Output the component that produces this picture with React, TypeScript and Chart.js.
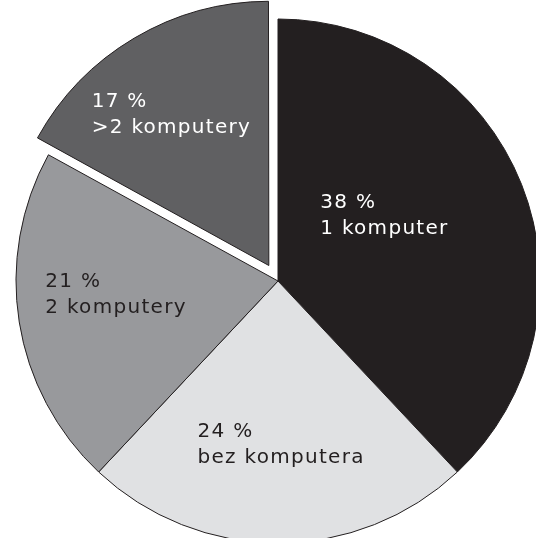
import { useEffect, useRef } from "react";
import { Chart, registerables } from "chart.js";

Chart.register(...registerables);

const categories = ["1 komputer", "bez komputera", "2 komputery", ">2 komputery"];
const shares = [38, 24, 21, 17];
const sliceColors = ["#231f20", "#e0e1e3", "#98999c", "#606062"];
const labelColors = ["#ffffff", "#231f20", "#231f20", "#ffffff"];
const explodePx = [0, 0, 0, 18];
const labelRadius = [0.48, 0.62, 0.62, 0.69];
const labelAngleShift = [-10.6, -1.1, 4.6, -2];

const labelPlugin = {
  id: "sliceLabels",
  afterDatasetsDraw(chart: any) {
    const ctx = chart.ctx as CanvasRenderingContext2D;
    const meta = chart.getDatasetMeta(0);
    ctx.save();
    ctx.font = "20px 'DejaVu Sans'";
    (ctx as any).letterSpacing = "1.3px";
    ctx.textBaseline = "alphabetic";
    ctx.textAlign = "left";
    meta.data.forEach((el: any, i: number) => {
      const { x, y, startAngle, endAngle, outerRadius } = el.getProps(
        ["x", "y", "startAngle", "endAngle", "outerRadius"],
        true
      );
      const mid = (startAngle + endAngle) / 2;
      const cx = x + Math.cos(mid) * explodePx[i];
      const cy = y + Math.sin(mid) * explodePx[i];
      const a = mid + (labelAngleShift[i] * Math.PI) / 180;
      const r = outerRadius * labelRadius[i];
      const bx = cx + Math.cos(a) * r;
      const by = cy + Math.sin(a) * r;
      const l1 = `${shares[i]} %`;
      const l2 = categories[i];
      const w = Math.max(ctx.measureText(l1).width, ctx.measureText(l2).width);
      const left = bx - w / 2;
      ctx.fillStyle = labelColors[i];
      ctx.fillText(l1, left, by - 6);
      ctx.fillText(l2, left, by + 20);
    });
    ctx.restore();
  },
};

export default function App() {
  const ref = useRef<HTMLCanvasElement | null>(null);
  useEffect(() => {
    if (!ref.current) return;
    const chart = new Chart(ref.current, {
      type: "pie",
      data: {
        labels: categories,
        datasets: [
          {
            data: shares,
            backgroundColor: sliceColors,
            borderColor: "#231f20",
            borderWidth: 1,
            offset: explodePx.map((v) => v * 4),
            radius: 262,
            clip: false,
          } as any,
        ],
      },
      options: {
        animation: false,
        responsive: false,
        layout: { padding: { left: 20, top: 24, right: 0, bottom: 0 } },
        plugins: {
          legend: { display: false },
          tooltip: { enabled: false },
        },
        events: [],
      },
      plugins: [labelPlugin],
    });
    return () => chart.destroy();
  }, []);
  return (
    <div style={{ position: "fixed", left: 0, top: 0, width: 536, height: 538, background: "#ffffff" }}>
      <canvas ref={ref} width={536} height={538} />
    </div>
  );
}
